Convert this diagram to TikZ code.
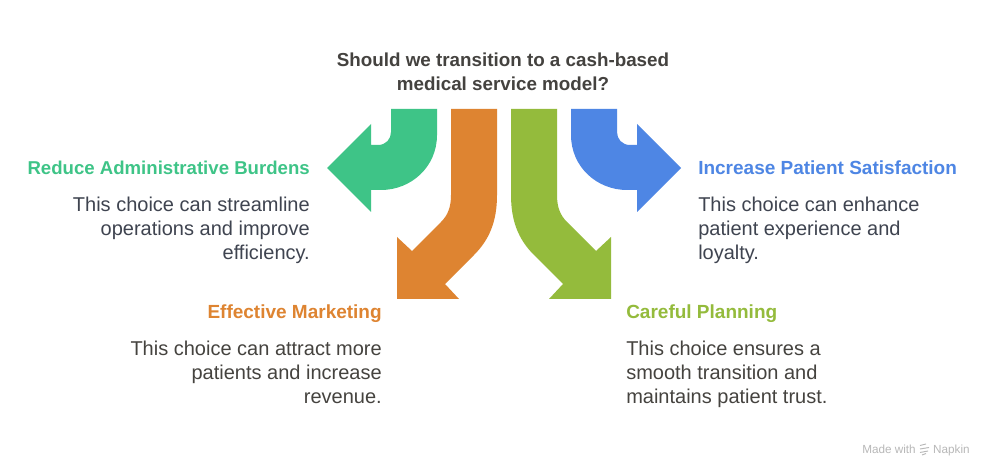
\documentclass[tikz,border=0pt]{standalone}
\usepackage{fontspec}
\setmainfont{Liberation Sans}
\definecolor{cgreen}{HTML}{3EC487}
\definecolor{corange}{HTML}{DE8431}
\definecolor{colive}{HTML}{94BB3C}
\definecolor{cblue}{HTML}{4E86E4}
\definecolor{ctitle}{HTML}{44423F}
\definecolor{cbody}{HTML}{45433F}
\definecolor{cbody2}{HTML}{3F4450}
\tikzset{
  x=0.75pt,y=-0.75pt,
  headtxt/.style={inner sep=0pt,font=\fontsize{14.25pt}{18pt}\selectfont\bfseries},
  bodytxt/.style={inner sep=0pt,font=\fontsize{15pt}{18pt}\selectfont},
  titletxt/.style={inner sep=0pt,align=center,text=ctitle,font=\fontsize{14.1pt}{18pt}\selectfont\bfseries},
  wmtxt/.style={inner sep=0pt,text=black!28,anchor=base,font=\fontsize{8.8pt}{10pt}\selectfont},
}
\begin{document}
\begin{tikzpicture}
\useasboundingbox (0,0) rectangle (984,466);
\fill[white] (0,0) rectangle (984,466);
% green
\fill[cgreen] (391,109) -- (437,109) -- (437,135) .. controls (437,167) and (411,190) .. (381,190) -- (371,190) -- (371,212) -- (327,168) -- (371,124) -- (371,145) -- (378,145) .. controls (386,145) and (391,139) .. (391,132) -- cycle;
% orange
\fill[corange] (451,109) -- (497,109) -- (497,195) .. controls (497,222) and (489,240) .. (474,255) -- (445,284) -- (459,299) -- (397,299) -- (397,237) -- (412,251) -- (441,222) .. controls (448,215) and (451,207) .. (451,195) -- cycle;
% olive
\fill[colive] (557,109) -- (511,109) -- (511,195) .. controls (511,222) and (519,240) .. (534,255) -- (563,284) -- (549,299) -- (611,299) -- (611,237) -- (596,251) -- (567,222) .. controls (560,215) and (557,207) .. (557,195) -- cycle;
% blue
\fill[cblue] (617,109) -- (571,109) -- (571,135) .. controls (571,167) and (597,190) .. (627,190) -- (637,190) -- (637,212) -- (681,168) -- (637,124) -- (637,145) -- (630,145) .. controls (622,145) and (617,139) .. (617,132) -- cycle;
\node[titletxt,anchor=north] (title) at (503,52.5) {Should we transition to a cash-based\\medical service model?};
\node[headtxt,text=cgreen,anchor=base east,font=\fontsize{13.95pt}{18pt}\selectfont\bfseries] (h1) at (310,175) {Reduce Administrative Burdens};
\node[bodytxt,text=cbody2,align=right,anchor=north east] (b1) at (310,197) {This choice can streamline\\operations and improve\\efficiency.};
\node[headtxt,text=corange,anchor=base east] (h2) at (382,319) {Effective Marketing};
\node[bodytxt,text=cbody,align=right,anchor=north east] (b2) at (382,341) {This choice can attract more\\patients and increase\\revenue.};
\node[headtxt,text=cblue,anchor=base west] (h3) at (698,175) {Increase Patient Satisfaction};
\node[bodytxt,text=cbody2,align=left,anchor=north west] (b3) at (698,197) {This choice can enhance\\patient experience and\\loyalty.};
\node[headtxt,text=colive,anchor=base west] (h4) at (626,319) {Careful Planning};
\node[bodytxt,text=cbody,align=left,anchor=north west] (b4) at (626,341) {This choice ensures a\\smooth transition and\\maintains patient trust.};
\node[wmtxt,anchor=base west] (wm1) at (862,453) {Made with};
\node[wmtxt,anchor=base east] (wm2) at (970,453) {Napkin};
\draw[black!28,line width=0.7pt] (920,445.5) -- (926,444) (920,449) -- (929,447.5) (920,452.5) -- (928,451) (922,455) -- (926,453.5);
\end{tikzpicture}
\end{document}
